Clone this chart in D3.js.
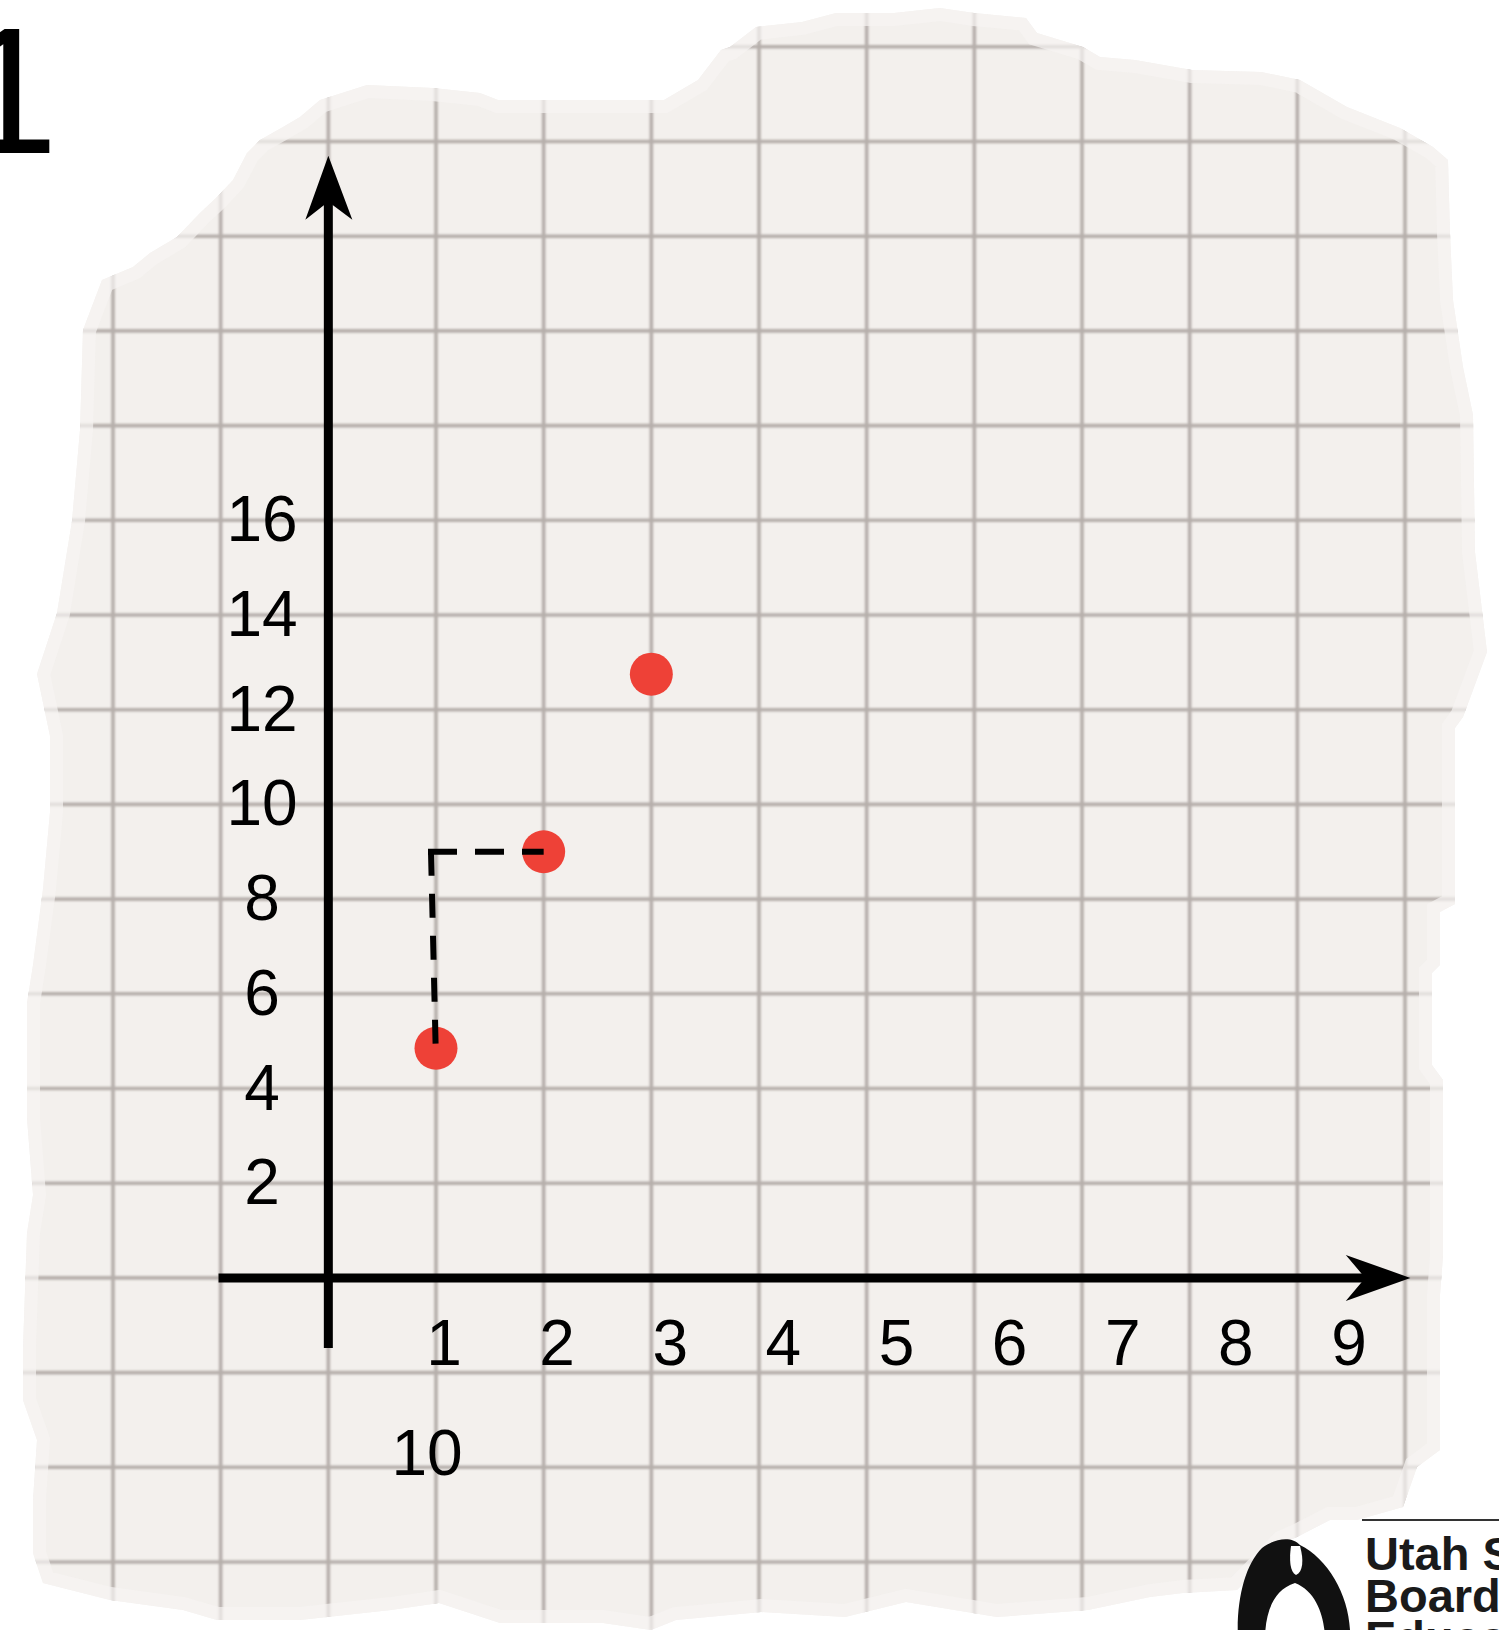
<!DOCTYPE html>
<html>
<head>
<meta charset="utf-8">
<script src="https://cdn.jsdelivr.net/npm/d3@7"></script>
<style>
  html, body { margin: 0; padding: 0; background: #fff; }
  svg { display: block; }
  text { font-family: "Liberation Sans", Arial, sans-serif; fill: #000; }
</style>
</head>
<body>
<div id="chart"></div>
<script>
// data
var xTicks = [1, 2, 3, 4, 5, 6, 7, 8, 9];
var yTicks = [2, 4, 6, 8, 10, 12, 14, 16];
var pointX = [1, 2, 3];
var pointY = [4.85, 9, 12.75];
var strayLabel = "10";
var problemNumber = "1";
var logoLines = ["Utah State", "Board of", "Education"];

// torn paper outline
var paperEdge = [
    [102, 280], [133, 267], [150, 253], [177, 237], [200, 213], [217, 197], [233, 180],
    [247, 153], [260, 140], [283, 127], [300, 117], [320, 100], [367, 85], [433, 88],
    [480, 93], [498, 100], [572, 100], [664, 100], [698, 80], [721, 50], [730, 47],
    [756, 27], [802, 22], [836, 13], [894, 13], [940, 8], [974, 13], [1026, 18],
    [1037, 33], [1083, 47], [1100, 57], [1135, 60], [1192, 70], [1261, 72], [1300, 80],
    [1347, 107], [1400, 128], [1433, 147], [1448, 160], [1450, 233], [1453, 300],
    [1463, 367], [1473, 415], [1475, 552], [1487, 652], [1473, 690], [1463, 717],
    [1455, 728], [1455, 904], [1440, 912], [1440, 965], [1432, 973], [1432, 1065],
    [1443, 1080], [1443, 1256], [1440, 1295], [1440, 1450], [1417, 1467], [1403, 1507],
    [1357, 1520], [1330, 1520], [1297, 1537], [1283, 1543], [1237, 1590], [1183, 1593],
    [1150, 1597], [1088, 1610], [997, 1617], [906, 1602], [845, 1617], [761, 1612],
    [676, 1620], [651, 1630], [603, 1623], [500, 1623], [439, 1603], [391, 1610],
    [300, 1620], [217, 1620], [183, 1610], [110, 1600], [43, 1583], [33, 1553],
    [33, 1500], [37, 1440], [23, 1400], [23, 1348], [27, 1233], [33, 1195], [27, 1118],
    [27, 1003], [33, 965], [43, 889], [50, 812], [50, 736], [37, 674], [57, 613],
    [72, 521], [80, 430], [83, 330]
];

var width = 1499, height = 1630;

var svg = d3.select("#chart").append("svg")
    .attr("width", width)
    .attr("height", height);

var defs = svg.append("defs");
defs.append("clipPath").attr("id", "paper-clip")
    .append("path").attr("d", d3.line()(paperEdge) + "Z");
defs.append("filter").attr("id", "soft")
    .append("feGaussianBlur").attr("stdDeviation", 1.1);

var x = d3.scaleLinear().domain([-2, 10]).range([113, 1405]);
var y = d3.scaleLinear().domain([-6, 24]).range([1562, 141.5]);
// tick labels sit loosely under the axis, not right on the grid
var xLabel = d3.scalePoint().domain(xTicks).range([444, 1349]);

// paper
svg.append("path")
    .attr("d", d3.line()(paperEdge) + "Z")
    .attr("fill", "#f3f0ed");

// grid
var grid = svg.append("g")
    .attr("clip-path", "url(#paper-clip)")
    .attr("filter", "url(#soft)")
    .attr("stroke", "#b6afab")
    .attr("stroke-width", 3.6);

grid.selectAll(".vline")
    .data(d3.range(-3, 12))
    .enter().append("line")
    .attr("class", "vline")
    .attr("x1", function (d) { return x(d); })
    .attr("x2", function (d) { return x(d); })
    .attr("y1", 0)
    .attr("y2", height);

grid.selectAll(".hline")
    .data(d3.range(-8, 30, 2))
    .enter().append("line")
    .attr("class", "hline")
    .attr("y1", function (d) { return y(d); })
    .attr("y2", function (d) { return y(d); })
    .attr("x1", 0)
    .attr("x2", width);

// faded rim of the torn edge
svg.append("path")
    .attr("d", d3.line()(paperEdge) + "Z")
    .attr("fill", "none")
    .attr("stroke", "#f6f4f2")
    .attr("stroke-width", 26)
    .attr("stroke-opacity", 0.7)
    .attr("clip-path", "url(#paper-clip)");

// axes
var x0 = x(0), y0 = y(0);

svg.append("line")
    .attr("x1", x0).attr("x2", x0)
    .attr("y1", y(-1.48)).attr("y2", y(23.2))
    .attr("stroke", "#000").attr("stroke-width", 9);

svg.append("path")
    .attr("d", "M" + x0 + "," + y(23.7) +
        "L" + (x0 + 24) + "," + y(22.35) +
        "L" + x0 + "," + y(22.73) +
        "L" + (x0 - 23) + "," + y(22.35) + "Z")
    .attr("fill", "#000");

svg.append("line")
    .attr("x1", x(-1.02)).attr("x2", x(9.8))
    .attr("y1", y0).attr("y2", y0)
    .attr("stroke", "#000").attr("stroke-width", 9);

svg.append("path")
    .attr("d", "M" + x(10.05) + "," + y0 +
        "L" + x(9.45) + "," + (y0 - 23) +
        "L" + x(9.63) + "," + y0 +
        "L" + x(9.45) + "," + (y0 + 23) + "Z")
    .attr("fill", "#000");

// tick labels
svg.append("g").selectAll("text")
    .data(yTicks)
    .enter().append("text")
    .attr("x", 262)
    .attr("y", function (d) { return y(d) + 21; })
    .attr("text-anchor", "middle")
    .attr("font-size", 64)
    .text(function (d) { return d; });

svg.append("g").selectAll("text")
    .data(xTicks)
    .enter().append("text")
    .attr("x", function (d) { return xLabel(d); })
    .attr("y", 1365)
    .attr("text-anchor", "middle")
    .attr("font-size", 64)
    .text(function (d) { return d; });

svg.append("text")
    .attr("x", 427)
    .attr("y", 1475)
    .attr("text-anchor", "middle")
    .attr("font-size", 64)
    .text(strayLabel);

// points
var pts = pointX.map(function (d, i) { return { x: d, y: pointY[i] }; });

svg.append("g").selectAll("circle")
    .data(pts)
    .enter().append("circle")
    .attr("cx", function (d) { return x(d.x); })
    .attr("cy", function (d) { return y(d.y); })
    .attr("r", 21.5)
    .attr("fill", "#ee4137");

// dashed step from first point to second
var cornerX = x(pts[0].x) - 5, cornerY = y(pts[1].y);
svg.append("line")
    .attr("x1", cornerX).attr("y1", cornerY)
    .attr("x2", x(pts[0].x)).attr("y2", y(pts[0].y) + 13)
    .attr("stroke", "#000").attr("stroke-width", 6)
    .attr("stroke-dasharray", "24,18");
svg.append("line")
    .attr("x1", cornerX - 3).attr("y1", cornerY)
    .attr("x2", x(pts[1].x)).attr("y2", cornerY)
    .attr("stroke", "#000").attr("stroke-width", 6)
    .attr("stroke-dasharray", "29,18");

// problem number
svg.append("text")
    .attr("x", -42)
    .attr("y", 153)
    .attr("font-size", 180)
    .text(problemNumber);

// logo corner
var logo = svg.append("g");
logo.append("line")
    .attr("x1", 1362).attr("x2", width)
    .attr("y1", 1520).attr("y2", 1520)
    .attr("stroke", "#333").attr("stroke-width", 2);

logo.append("path")
    .attr("fill-rule", "evenodd")
    .attr("fill", "#111")
    .attr("d",
        "M1262,1548 C1275,1538 1292,1536 1300,1545 C1330,1560 1352,1600 1350,1640" +
        " L1238,1640 C1236,1600 1245,1565 1262,1548 Z" +
        " M1295,1583 C1318,1592 1325,1620 1325,1640 L1265,1640 C1265,1615 1272,1590 1295,1583 Z");
logo.append("path")
    .attr("fill", "#fff")
    .attr("d", "M1291,1546 C1289,1560 1290,1572 1296,1575 C1303,1572 1304,1560 1300,1546 Z");

logo.selectAll(".logo-text")
    .data(logoLines)
    .enter().append("text")
    .attr("class", "logo-text")
    .attr("x", 1365)
    .attr("y", function (d, i) { return 1570 + i * 42; })
    .attr("font-family", "'Open Sans', 'Noto Sans', sans-serif")
    .attr("font-weight", "bold")
    .attr("font-size", 47)
    .style("fill", "#1a1a1a")
    .text(function (d) { return d; });
</script>
</body>
</html>
